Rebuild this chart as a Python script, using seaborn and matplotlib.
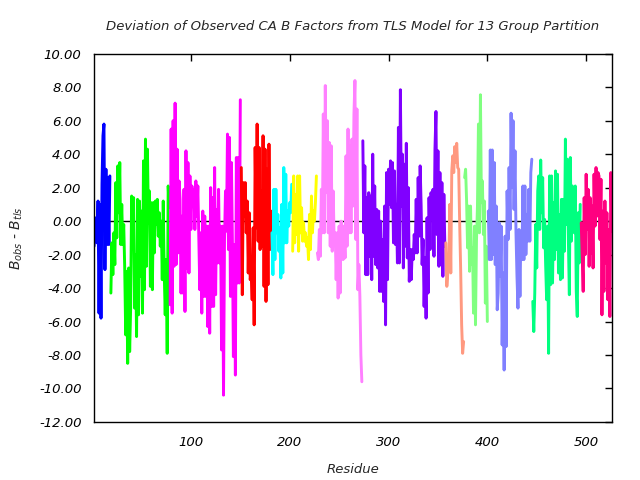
import numpy as np
import pandas as pd
import matplotlib
matplotlib.use("Agg")
import matplotlib.pyplot as plt
import seaborn as sns

# TLS groups: first residue of each group, colour, and B_obs - B_tls per residue
group_names = ["g01", "g02", "g03", "g04", "g05", "g06", "g07",
               "g08", "g09", "g10", "g11", "g12", "g13"]
group_start = [2, 19, 79, 151, 182, 203, 228, 274, 358, 377, 401, 446, 495]
group_colors = ["#0000ff", "#00ff00", "#ff00ff", "#ff0000", "#00ffff", "#ffff00", "#ff80ff",
                "#8000ff", "#ff9980", "#80ff80", "#8080ff", "#00ff80", "#ff0080"]

dev_g01 = [-1.5, -0.5, 0.2, -1.3, 1.2, -5.5, 1.0, -5.8, 2.2, 5.1, 5.8, -2.9, 3.1,
           -1.4, 2.6, -1.4, 2.7]
dev_g02 = [-4.3, -1.3, -3.2, -0.7, -2.6, 2.3, -1.0, 3.3, 0.5, 3.5, -1.4, 1.0, -1.4, -0.2,
           -2.8, -6.8, -3.0, -8.5, -2.8, -7.8, -5.2, 1.5, -1.1, 1.4, -5.2, -2.0, -6.9, 1.3,
           -5.6, 1.2, -3.3, 0.6, -5.5, 3.6, -4.1, 4.9, -2.7, 4.3, -0.1, 1.8, -3.9, 1.1, -4.1,
           1.1, -1.9, 1.2, -0.2, 1.3, -0.9, 0.5, -1.5, 0.0, -3.5, 1.2, -3.1, -5.6, -2.3,
           -7.9, 2.1, 0.8]
dev_g03 = [-5.0, 5.5, -5.5, 6.0, -2.7, 7.05, -2.6, 4.3, -1.9, 2.4, 1.3, -4.3, 0.3, -4.3,
           1.9, -5.4, 4.2, -2.8, 3.5, -3.1, 2.7, -0.5, 2.1, 1.3, 1.9, -0.5, 2.4, 0.3,
           2.1, -1.0, -4.1, -0.7, -5.5, 0.6, -4.5, 0.3, -4.5, -0.3, -6.3, -0.3, -6.7, 2.0,
           -5.1, 1.4, -5.1, 3.2, -4.4, 0.7, -2.5, 1.9, -2.5, -0.3, -7.7, -0.3, -10.4, -1.1,
           1.8, -0.6, 5.2, -1.7, 5.0, -4.5, 3.5, -1.3, -8.1, -1.4, -9.2, 3.8, -3.7, 3.8,
           -3.7, 7.25]
dev_g04 = [3.2, -4.4, 2.3, 0.3, 2.3, -0.7, 1.2, -3.1, 0.5, -3.5, -3.1, -4.7, -0.4, -6.2,
           4.4, -0.4, 5.8, -1.2, 4.4, -1.7, 1.8, -1.5, 5.1, -3.9, 4.3, -4.8, 3.1, -3.8, 4.6,
           -1.7, 0.6]
dev_g05 = [-0.7, -3.2, 1.9, -2.3, 1.9, -0.7, 0.4, -1.8, -0.4, -3.4, 1.0, -3.1, 3.2, -1.3,
           2.8, -1.3, 0.6, -0.3, 1.1, 0.5, 2.2]
dev_g06 = [-1.8, 2.7, -1.3, 1.6, -0.8, 2.7, -1.8, 2.7, -0.7, 0.8, -1.2, -0.1, -1.2, -0.7,
           -1.5, -1.0, -2.3, 0.4, -1.7, 1.5, -0.7, 0.6, 0.0, 1.1, 2.7]
dev_g07 = [-1.9, -2.3, -0.5, -2.1, 1.9, -0.7, 6.4, -0.7, 8.1, 1.7, 6.0, -0.7, 4.7, -1.5,
           4.5, -1.8, 1.8, -1.3, -0.7, -3.5, -0.7, -4.6, -0.3, -4.3, 0.0, -0.9, -2.3, -0.3,
           -2.2, 3.9, -1.5, 5.5, -0.7, 4.5, -0.7, 4.9, 0.9, 6.4, 8.4, -1.1, 6.7, -4.1, -2.6,
           -4.5, -8.0, -9.6]
dev_g08 = [4.8, -0.7, 3.3, -3.2, 1.4, -3.2, 1.7, -2.1, 1.5, -3.5, 4.0, -2.1, 2.1, -2.6,
           0.7, -2.8, 0.6, -4.2, 0.0, -4.2, -1.1, -4.8, 0.9, -6.2, 2.9, -3.5, 3.1, 1.0,
           3.6, 0.8, 3.5, -1.3, 3.0, -1.4, 1.0, -2.5, 5.6, -2.5, 7.85, 0.9, 4.0, -2.8, 3.4,
           -1.5, 4.65, -2.2, 2.0, -3.6, -1.7, -3.5, -1.7, -2.3, -0.8, -1.9, 1.3, -1.9, 2.6,
           -0.9, 3.3, 0.9, -2.6, -1.1, -5.1, -2.2, -5.8, 0.2, -4.3, 1.4, -1.7, 1.7, 0.7, 1.9,
           -2.1, 4.3, 6.55, -0.8, 4.2, -2.7, 2.9, -2.6, 2.3, -3.3, 1.6, -1.5]
dev_g09 = [-1.3, -3.9, -3.1, -2.7, 1.0, -3.1, 3.0, 3.9, 2.9, 4.45, 3.5, 4.65, 3.2, 3.1,
           -0.1, -2.9, -6.2, -7.9, -7.2]
dev_g10 = [2.6, 3.1, 1.2, -1.6, 0.9, -3.0, 0.9, -2.6, -1.6, -5.5, -0.3, -6.2, -1.2, 0.9,
           5.8, -0.7, 7.55, 1.1, 2.4, -0.8, 1.2, -4.9, -1.5, -6.0]
dev_g11 = [0.6, -2.3, 4.25, -2.3, 4.25, -2.0, 3.5, -2.6, 0.9, -5.3, -4.3, -0.1, -3.3, -0.3,
           -7.4, -3.1, -8.9, -0.9, -7.5, 1.8, -1.1, 3.2, -0.5, 6.45, 2.0, 6.0, 0.7, 4.2,
           -0.7, -3.3, -5.2, -0.5, -4.5, -0.6, -2.3, 2.1, -2.3, 2.1, -2.0, 0.4, -1.2, 1.9,
           -1.2, 2.9, 3.7]
dev_g12 = [-4.8, -6.6, -4.3, -0.2, -2.8, 1.8, 2.7, -0.5, 3.65, 0.5, 2.6, -1.6, 0.1, -2.6,
           -4.7, -0.3, -7.9, 2.7, -3.8, 2.7, -3.7, 1.1, -2.3, 3.0, -1.7, 2.8, -3.1, 0.4,
           -3.5, 1.3, -3.4, 1.3, -1.8, 4.9, -0.2, 3.7, -1.1, -4.4, 3.8, -1.2, 2.1, 0.9, -0.7,
           2.1, -4.2, -5.7, 0.5, -2.5, 1.0]
dev_g13 = [-0.1, -2.1, -4.2, 1.4, -2.0, 2.8, -0.5, 1.9, -2.7, 1.4, -1.9, 0.9, -2.8, 2.8,
           -0.3, 3.2, 0.3, 2.9, 2.7, -1.1, 2.5, -5.6, 0.6, -4.2, 1.2, -2.5, 0.5, -4.7, -0.5,
           -5.7, 2.9, -0.6]

all_devs = [dev_g01, dev_g02, dev_g03, dev_g04, dev_g05, dev_g06, dev_g07,
            dev_g08, dev_g09, dev_g10, dev_g11, dev_g12, dev_g13]

# long-form table for seaborn
frames = []
for name, start, vals in zip(group_names, group_start, all_devs):
    frames.append(pd.DataFrame({"residue": np.arange(start, start + len(vals)),
                                "dev": vals, "group": name}))
df = pd.concat(frames, ignore_index=True)

sns.set_style("white")
plt.rcParams["font.family"] = ["DejaVu Sans"]
plt.rcParams["font.style"] = "italic"
plt.rcParams["mathtext.fontset"] = "dejavusans"

fig = plt.figure(figsize=(6.4, 4.8), dpi=100)
ax = fig.add_axes([0.147, 0.121, 0.809, 0.767])

ax.axhline(0, color="black", linewidth=1.0, zorder=1)
sns.lineplot(data=df, x="residue", y="dev", hue="group", hue_order=group_names,
             palette=group_colors, estimator=None, sort=False, linewidth=2.1,
             legend=False, ax=ax, zorder=2)

yt = np.arange(-12, 10.1, 2)
ax.set_xlim(2, 526)
ax.set_ylim(-12, 10)
ax.set_xticks([100, 200, 300, 400, 500])
ax.set_xticklabels(["100", "200", "300", "400", "500"], style="italic")
ax.set_yticks(yt)
ax.set_yticklabels([f"{v:.2f}" for v in yt], style="italic")
ax.tick_params(direction="in", length=5, width=1, top=True, right=True,
               labelsize=9.5, colors="black")
ax.tick_params(axis="x", pad=10)
ax.tick_params(axis="y", pad=9)
for s in ax.spines.values():
    s.set_color("black")
    s.set_linewidth(1.0)

ax.set_title("Deviation of Observed CA B Factors from TLS Model for 13 Group Partition",
             fontsize=9.5, style="italic", pad=17)
ax.set_xlabel("Residue", fontsize=9.5, style="italic", labelpad=10)
ax.set_ylabel(r"$B_{obs}$ - $B_{tls}$", fontsize=10, labelpad=10)

fig.savefig("out.png", dpi=100)
